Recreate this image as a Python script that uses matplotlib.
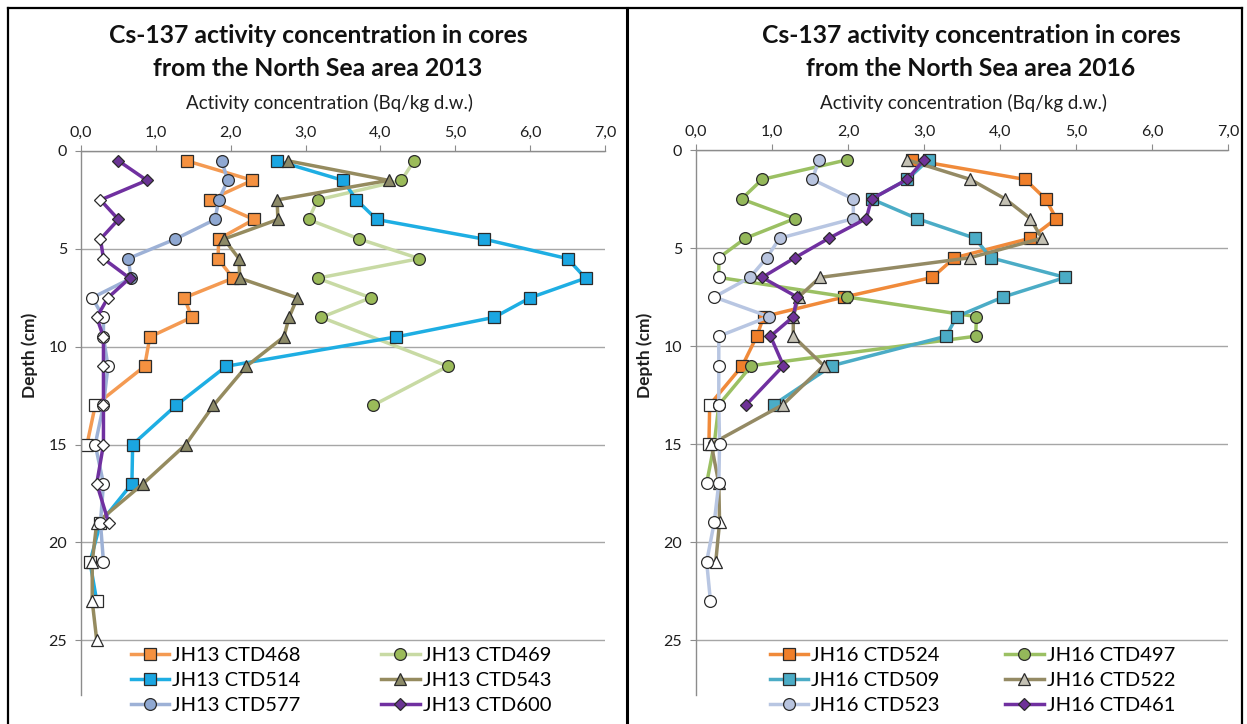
import numpy as np
import matplotlib
matplotlib.use("Agg")
import matplotlib.pyplot as plt
from matplotlib.lines import Line2D
from matplotlib.ticker import FixedLocator, FuncFormatter

plt.rcParams['font.family'] = ['Lato', 'DejaVu Sans']

# ---------------- data: Cs-137 (Bq/kg d.w.) versus depth (cm) ----------------
# 2013 cores
ctd468_depth = [0.5, 1.5, 2.5, 3.5, 4.5, 5.5, 6.5, 7.5, 8.5, 9.5, 11, 13, 15]
ctd468_value = [1.41, 2.29, 1.72, 2.31, 1.84, 1.83, 2.03, 1.38, 1.48, 0.92, 0.85, 0.19, 0.08]
ctd468_below = [13, 15]

ctd469_depth = [0.5, 1.5, 2.5, 3.5, 4.5, 5.5, 6.5, 7.5, 8.5, 11, 13]
ctd469_value = [4.45, 4.28, 3.16, 3.04, 3.72, 4.52, 3.16, 3.87, 3.21, 4.90, 3.90]
ctd469_below = []

ctd514_depth = [0.5, 1.5, 2.5, 3.5, 4.5, 5.5, 6.5, 7.5, 8.5, 9.5, 11, 13, 15, 17, 19, 21, 23]
ctd514_value = [2.62, 3.50, 3.68, 3.95, 5.38, 6.50, 6.74, 6.00, 5.52, 4.21, 1.94, 1.27, 0.69,
                0.68, 0.26, 0.12, 0.21]
ctd514_below = [19, 21, 23]

ctd543_depth = [0.5, 1.5, 2.5, 3.5, 4.5, 5.5, 6.5, 7.5, 8.5, 9.5, 11, 13, 15, 17, 19, 21, 23, 25]
ctd543_value = [2.76, 4.11, 2.62, 2.63, 1.91, 2.11, 2.12, 2.89, 2.78, 2.71, 2.21, 1.77, 1.40,
                0.83, 0.21, 0.15, 0.15, 0.21]
ctd543_below = [19, 21, 23, 25]

ctd577_depth = [0.5, 1.5, 2.5, 3.5, 4.5, 5.5, 6.5, 7.5, 8.5, 9.5, 11, 13, 15, 17, 19, 21]
ctd577_value = [1.88, 1.96, 1.84, 1.79, 1.26, 0.63, 0.67, 0.15, 0.30, 0.30, 0.36, 0.30, 0.19,
                0.30, 0.26, 0.30]
ctd577_below = [7.5, 8.5, 9.5, 11, 13, 15, 17, 19, 21]

ctd600_depth = [0.5, 1.5, 2.5, 3.5, 4.5, 5.5, 6.5, 7.5, 8.5, 9.5, 11, 13, 15, 17, 19]
ctd600_value = [0.50, 0.88, 0.26, 0.50, 0.26, 0.30, 0.65, 0.36, 0.21, 0.30, 0.30, 0.30, 0.30,
                0.21, 0.37]
ctd600_below = [2.5, 4.5, 5.5, 7.5, 8.5, 9.5, 11, 13, 15, 17, 19]

# 2016 cores
ctd524_depth = [0.5, 1.5, 2.5, 3.5, 4.5, 5.5, 6.5, 7.5, 8.5, 9.5, 11, 13, 15]
ctd524_value = [2.84, 4.33, 4.60, 4.74, 4.40, 3.40, 3.11, 1.95, 0.89, 0.80, 0.61, 0.18, 0.17]
ctd524_below = [13, 15]

ctd497_depth = [0.5, 1.5, 2.5, 3.5, 4.5, 5.5, 6.5, 7.5, 8.5, 9.5, 11, 13, 15, 17]
ctd497_value = [1.99, 0.87, 0.60, 1.30, 0.65, 0.30, 0.30, 1.99, 3.69, 3.68, 0.73, 0.30, 0.24, 0.14]
ctd497_below = [5.5, 6.5, 13, 15, 17]

ctd509_depth = [0.5, 1.5, 2.5, 3.5, 4.5, 5.5, 6.5, 7.5, 8.5, 9.5, 11, 13]
ctd509_value = [3.06, 2.78, 2.31, 2.91, 3.67, 3.88, 4.86, 4.04, 3.43, 3.29, 1.79, 1.02]
ctd509_below = []

ctd522_depth = [0.5, 1.5, 2.5, 3.5, 4.5, 5.5, 6.5, 7.5, 8.5, 9.5, 11, 13, 15, 17, 19, 21]
ctd522_value = [2.78, 3.61, 4.07, 4.40, 4.55, 3.60, 1.63, 1.35, 1.28, 1.28, 1.68, 1.14, 0.20,
                0.30, 0.31, 0.26]
ctd522_below = [15, 17, 19, 21]

ctd523_depth = [0.5, 1.5, 2.5, 3.5, 4.5, 5.5, 6.5, 7.5, 8.5, 9.5, 11, 13, 15, 17, 19, 21, 23]
ctd523_value = [1.62, 1.53, 2.07, 2.07, 1.10, 0.93, 0.71, 0.24, 0.96, 0.30, 0.30, 0.30, 0.31,
                0.30, 0.24, 0.14, 0.19]
ctd523_below = [7.5, 9.5, 11, 13, 15, 17, 19, 21, 23]

ctd461_depth = [0.5, 1.5, 2.5, 3.5, 4.5, 5.5, 6.5, 7.5, 8.5, 9.5, 11, 13]
ctd461_value = [3.00, 2.78, 2.31, 2.24, 1.75, 1.30, 0.87, 1.33, 1.28, 0.98, 1.15, 0.66]
ctd461_below = []

x_ticks = [0, 1, 2, 3, 4, 5, 6, 7]
y_ticks = [0, 5, 10, 15, 20, 25]

titles = ["Cs-137 activity concentration in cores\nfrom the North Sea area 2013",
          "Cs-137 activity concentration in cores\nfrom the North Sea area 2016"]
x_title = "Activity concentration (Bq/kg d.w.)"
y_title = "Depth (cm)"

series_2013 = [
    ("JH13 CTD468", ctd468_depth, ctd468_value, ctd468_below),
    ("JH13 CTD469", ctd469_depth, ctd469_value, ctd469_below),
    ("JH13 CTD514", ctd514_depth, ctd514_value, ctd514_below),
    ("JH13 CTD543", ctd543_depth, ctd543_value, ctd543_below),
    ("JH13 CTD577", ctd577_depth, ctd577_value, ctd577_below),
    ("JH13 CTD600", ctd600_depth, ctd600_value, ctd600_below),
]
series_2016 = [
    ("JH16 CTD524", ctd524_depth, ctd524_value, ctd524_below),
    ("JH16 CTD497", ctd497_depth, ctd497_value, ctd497_below),
    ("JH16 CTD509", ctd509_depth, ctd509_value, ctd509_below),
    ("JH16 CTD522", ctd522_depth, ctd522_value, ctd522_below),
    ("JH16 CTD523", ctd523_depth, ctd523_value, ctd523_below),
    ("JH16 CTD461", ctd461_depth, ctd461_value, ctd461_below),
]

# ---------------- styles: (line colour, marker, marker fill, marker size) ----------------
styles = {
    "JH13 CTD468": ("#F49A52", "s", "#F59140", 8.5),
    "JH13 CTD469": ("#C8DAA4", "o", "#9BBB59", 8.5),
    "JH13 CTD514": ("#1EAEE3", "s", "#1AA6E2", 8.5),
    "JH13 CTD543": ("#958B5F", "^", "#8C8A68", 9.0),
    "JH13 CTD577": ("#9DB1D6", "o", "#8FA8D2", 8.5),
    "JH13 CTD600": ("#7030A0", "D", "#6A3494", 6.5),
    "JH16 CTD524": ("#F08A3A", "s", "#F07F2A", 8.5),
    "JH16 CTD497": ("#9BC063", "o", "#94B85A", 8.5),
    "JH16 CTD509": ("#4BACC6", "s", "#4BACC6", 8.5),
    "JH16 CTD522": ("#948A64", "^", "#C4C1B4", 9.0),
    "JH16 CTD523": ("#B8C6E2", "o", "#B8C4DF", 8.5),
    "JH16 CTD461": ("#7030A0", "D", "#6F3298", 6.5),
}
EDGE = "#2B2B2B"
AXIS_GREY = "#8C8C8C"
GRID_GREY = "#A6A6A6"
TEXT = "#1E1E1E"

W, H, DPI = 1247, 724, 100
fig = plt.figure(figsize=(W / DPI, H / DPI), dpi=DPI)
fig.patch.set_facecolor("white")


def px_axes(left, right, top, bottom):
    return fig.add_axes([left / W, 1 - bottom / H, (right - left) / W, (bottom - top) / H])


def draw_series(ax, label, depth, value, below):
    line_c, mk, fill, ms = styles[label]
    depth = np.asarray(depth, dtype=float)
    value = np.asarray(value, dtype=float)
    hollow = np.isin(depth, below)
    filled_idx = np.where(~hollow)[0].tolist()
    ax.plot(value, depth, color=line_c, lw=2.5, solid_joinstyle="round",
            marker=mk, ms=ms, mfc=fill, mec=EDGE, mew=0.9, markevery=filled_idx)
    if hollow.any():
        ax.plot(value[hollow], depth[hollow], ls="none", marker=mk, ms=ms,
                mfc="white", mec=EDGE, mew=0.9)


def legend_handle(label):
    line_c, mk, fill, ms = styles[label]
    return Line2D([], [], color=line_c, lw=2.5, marker=mk, ms=ms, mfc=fill,
                  mec=EDGE, mew=0.9, label=label)


def style_axes(ax, title, title_x, xlabel_x, ylabel_x):
    ax.set_xlim(0, 7)
    ax.set_ylim(27.8, 0)
    ax.xaxis.tick_top()
    ax.xaxis.set_label_position("top")
    ax.xaxis.set_major_locator(FixedLocator(x_ticks))
    ax.xaxis.set_major_formatter(FuncFormatter(lambda v, p: f"{v:.1f}".replace(".", ",")))
    ax.yaxis.set_major_locator(FixedLocator(y_ticks))
    ax.tick_params(axis="x", direction="out", length=4, color=AXIS_GREY, labelsize=11.5,
                   pad=4, labelcolor=TEXT)
    ax.tick_params(axis="y", direction="out", length=4, color=AXIS_GREY, labelsize=11.5,
                   pad=6, labelcolor=TEXT)
    for side in ("right", "bottom"):
        ax.spines[side].set_visible(False)
    for side in ("left", "top"):
        ax.spines[side].set_color(AXIS_GREY)
        ax.spines[side].set_linewidth(1.0)
    ax.yaxis.grid(True, color=GRID_GREY, lw=1.0)
    ax.set_axisbelow(True)
    ax.set_xlabel(x_title, fontsize=13.5, color=TEXT)
    ax.xaxis.label.set_verticalalignment("center")
    ax.set_ylabel(y_title, fontsize=12.5, fontweight="bold", color=TEXT)
    ax.yaxis.label.set_verticalalignment("center")
    bbox = ax.get_position()
    x0, x1 = bbox.x0 * W, bbox.x1 * W
    y_top, y_bot = (1 - bbox.y1) * H, (1 - bbox.y0) * H
    ax.xaxis.set_label_coords((xlabel_x - x0) / (x1 - x0), 1 + (y_top - 103) / (y_bot - y_top))
    ax.yaxis.set_label_coords((ylabel_x - x0) / (x1 - x0), (y_bot - 355) / (y_bot - y_top))
    fig.text(title_x / W, 1 - 52 / H, title, ha="center", va="center", fontsize=17.8,
             fontweight="bold", linespacing=1.5, color="#111111")


ax1 = px_axes(81, 605, 151, 695)
ax2 = px_axes(696, 1228, 150, 695)

for ax, series in ((ax1, series_2013), (ax2, series_2016)):
    for label, d, v, b in series:
        draw_series(ax, label, d, v, b)

style_axes(ax1, titles[0], 318, 330, 30)
style_axes(ax2, titles[1], 971, 964, 645)

# legends: two columns, entries read row by row
for ax, series, x_px, col_gap in ((ax1, series_2013, 131, 4.0), (ax2, series_2016, 770, 3.25)):
    labels = [s[0] for s in series]
    order = [0, 2, 4, 1, 3, 5]
    handles = [legend_handle(labels[i]) for i in order]
    ax.legend(handles=handles, loc="upper left", ncol=2, frameon=False,
              bbox_to_anchor=(x_px / W, 1 - 647 / H), bbox_transform=fig.transFigure,
              fontsize=14.5, handlelength=1.9, handletextpad=0.15, columnspacing=col_gap,
              labelspacing=0.38, borderaxespad=0, borderpad=0)

# chart frames
frame_kw = dict(color="black", lw=1.6, transform=fig.transFigure, clip_on=False)
fig.add_artist(Line2D([8 / W, 8 / W], [0, 1 - 8 / H], **frame_kw))
fig.add_artist(Line2D([8 / W, 1242 / W], [1 - 8 / H, 1 - 8 / H], **frame_kw))
fig.add_artist(Line2D([627 / W, 627 / W], [0, 1 - 8 / H], color="black", lw=2.2,
                      transform=fig.transFigure))
fig.add_artist(Line2D([1242 / W, 1242 / W], [0, 1 - 8 / H], **frame_kw))

fig.savefig("out.png", dpi=DPI, facecolor="white")
